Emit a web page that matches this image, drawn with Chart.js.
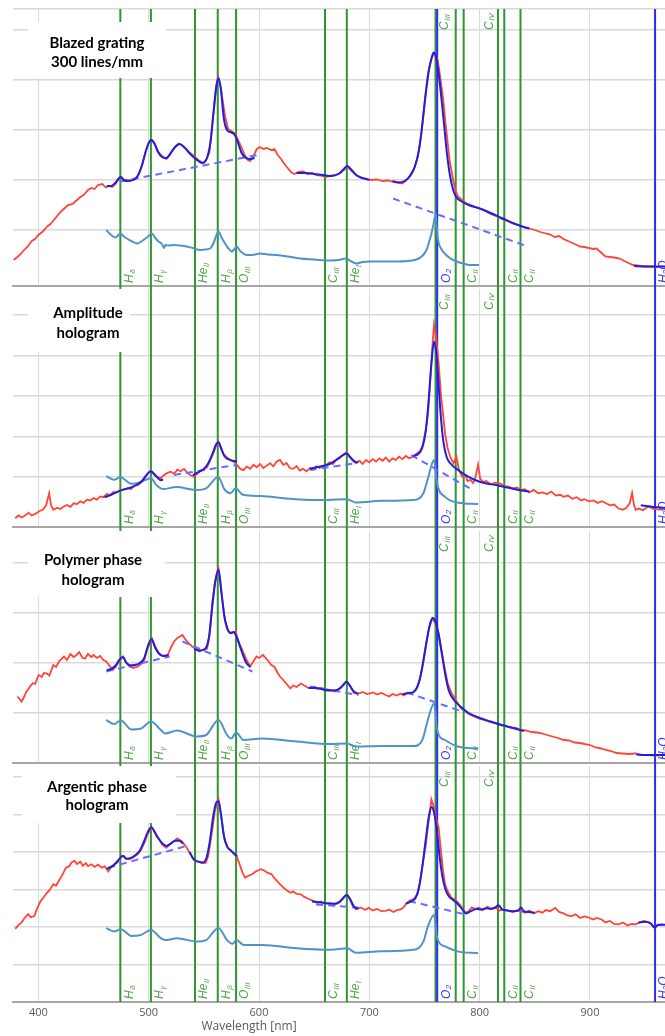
<!DOCTYPE html>
<html>
<head>
<meta charset="utf-8">
<script src="https://cdn.jsdelivr.net/npm/chart.js@4.4.1/dist/chart.umd.min.js"></script>
<style>
  html, body { margin: 0; padding: 0; background: #fff; }
  #wrap { position: relative; width: 665px; height: 1036px; overflow: hidden; }
  canvas { position: absolute; left: 0; }
</style>
</head>
<body>
<div id="wrap">
  <canvas id="p1" width="665" height="288" style="top:0px"></canvas>
  <canvas id="p2" width="665" height="241" style="top:288px"></canvas>
  <canvas id="p3" width="665" height="236" style="top:529px"></canvas>
  <canvas id="p4" width="665" height="271" style="top:765px"></canvas>
</div>
<script>
// wavelength axis
const wlTicks = [400, 500, 600, 700, 800, 900];
// redshifted line markers [nm]
const greenLines = [474.3, 502, 542, 562.6, 579.2, 659.8, 679.6, 760, 778.3, 785.5, 816.6, 822.3, 837];
const blueLines = [761.5, 959];
const lowLabels = [["H", "δ", 474.3], ["H", "γ", 502], ["He", "II", 542], ["H", "β", 562.6], ["O", "III", 579.2],
  ["C", "III", 659.8], ["He", "I", 679.6], ["C", "II", 785.5], ["C", "II", 822.3], ["C", "II", 837]];
const topLabels = [["C", "III", 760], ["C", "IV", 800.5]];
const blueLabels = [["O", "2", 761.5], ["H₂O", "", 959]];

// ---- panel 1 : blazed grating ----
const p1Ticks = [1, 2, 3, 4, 5, 5.42];
const p1Red = [[377.6,0.40],[381,0.46],[384,0.52],[387,0.60],[390,0.66],[394,0.78],[397,0.82],[400,0.90],[404,0.97],[408,1.07],[411,1.12],[414,1.20],[417,1.28],[421,1.38],[424,1.44],[427,1.50],[431,1.52],[435,1.60],[438,1.66],[441,1.70],[445,1.80],[448,1.84],[451,1.82],[454,1.90],[458,1.92],[461,1.85],[464,1.88],[467,1.86],[470,1.92],[474.5,2.08],[477,2.02],[480,1.99],[484,2.0],[488,2.02],[491,2.12],[494,2.3],[497,2.55],[500,2.75],[503,2.8],[506,2.7],[509,2.55],[513,2.46],[516,2.42],[519,2.5],[523,2.64],[527,2.73],[530,2.7],[534,2.62],[537,2.55],[541,2.48],[545,2.4],[549,2.34],[552,2.4],[555,2.55],[558,3.2],[561,3.85],[563,4.05],[565,3.9],[567,3.6],[569,3.3],[572,3.02],[575,2.98],[578,2.93],[581,2.8],[584,2.66],[587,2.5],[590,2.4],[592,2.38],[595,2.48],[598,2.62],[601,2.66],[604,2.62],[607,2.64],[611,2.6],[614,2.62],[617,2.5],[620,2.42],[623,2.32],[626,2.24],[629,2.16],[632,2.12],[636,2.16],[640,2.17],[644,2.12],[648,2.14],[652,2.10],[656,2.09],[660,2.06],[664,2.08],[668,2.1],[673,2.13],[677,2.2],[680,2.27],[684,2.18],[688,2.1],[692,2.06],[697,2.02],[702,2.0],[707,2.01],[712,1.98],[717,1.99],[722,1.96],[726,1.95],[730,1.93],[734,2.0],[737,2.1],[741,2.25],[744,2.47],[747,2.9],[750,3.55],[753,4.1],[756,4.4],[758.4,4.53],[760,4.5],[762,4.4],[764,4.1],[767,3.6],[769,3.15],[771,2.75],[773,2.35],[776,2.0],[778,1.8],[780,1.68],[784,1.6],[788,1.53],[792,1.5],[796,1.46],[800,1.43],[804,1.4],[808,1.34],[812,1.3],[816,1.27],[820,1.22],[825,1.18],[830,1.13],[835,1.1],[840,1.06],[845,1.03],[850,1.0],[855,0.96],[860,0.93],[864,0.91],[868,0.86],[872,0.88],[876,0.82],[880,0.78],[884,0.74],[888,0.7],[891,0.67],[895,0.66],[899,0.64],[903,0.62],[906,0.63],[910,0.55],[914,0.47],[918,0.46],[922,0.45],[927,0.43],[931,0.38],[935,0.34],[939,0.3],[943,0.29],[947,0.28],[951,0.27],[955,0.27],[960,0.26],[966,0.27]];
const p1Fit = [[462,1.88],[466,1.88],[470,1.95],[474.5,2.06],[478,1.99],[482,1.98],[486,2.0],[490,2.08],[494,2.3],[498,2.62],[502,2.8],[505,2.74],[508,2.58],[512,2.46],[516,2.44],[520,2.54],[524,2.66],[528,2.72],[532,2.66],[536,2.56],[540,2.47],[545,2.38],[549,2.34],[553,2.45],[556,2.75],[559,3.4],[561.5,3.9],[563.3,4.04],[565.5,3.8],[568,3.25],[571,3.0],[575,2.95],[578,2.9],[581,2.74],[584,2.55],[587,2.46],[591,2.42],[596,2.44],[600,null],
  [634,2.14],[642,2.14],[650,2.12],[658,2.1],[666,2.08],[672,2.12],[676,2.2],[680,2.28],[684,2.2],[688,2.1],[692,2.05],[697,2.02],[700,2.0],[710,null],
  [721,1.98],[727,1.95],[732,1.98],[737,2.08],[741,2.25],[745,2.6],[748,3.1],[751,3.7],[754,4.2],[756.5,4.45],[758.4,4.55],[760.5,4.45],[763,4.1],[765.5,3.6],[768,3.05],[770.5,2.5],[773,2.1],[776,1.8],[779,1.65],[783,1.58],[790,1.5],[800,1.43],[810,1.34],[820,1.24],[830,1.14],[840,1.06],[845,1.03],[900,null],
  [940,0.28],[950,0.27],[960,0.27],[968,0.27]];
const p1Dash = [[474,1.97],[599,2.5],[650,null],[721.5,1.63],[843.7,0.67]];
const p1Ref = [[461.5,1.0],[465,0.92],[469.7,0.85],[474.6,0.93],[477,0.88],[480.2,0.83],[485,0.77],[489.3,0.73],[494,0.78],[498.4,0.85],[502.9,0.93],[506,0.84],[508.9,0.77],[512,0.72],[514,0.64],[515,0.7],[518,0.69],[522.6,0.7],[528,0.69],[534.6,0.67],[540,0.64],[546.6,0.6],[551,0.61],[555.7,0.63],[559,0.75],[563.2,0.97],[566,0.85],[569.2,0.73],[572,0.64],[575.3,0.57],[577,0.6],[579.8,0.67],[583,0.58],[588.9,0.5],[594,0.5],[600.9,0.53],[608,0.51],[616,0.5],[626,0.47],[637,0.43],[650,0.41],[664,0.39],[672,0.4],[679,0.43],[683,0.38],[688,0.33],[694,0.36],[700.5,0.37],[712,0.37],[724.6,0.37],[735,0.38],[742.7,0.41],[748,0.48],[751.8,0.6],[754,0.75],[756.3,0.93],[758.5,1.15],[760.2,1.33],[761,1.1],[762.3,0.8],[765,0.63],[768.3,0.53],[773,0.44],[778.9,0.37],[785,0.33],[791,0.3],[799.4,0.3]];

// ---- panel 2 : amplitude hologram ----
const p2Ticks = [1, 2, 3, 4, 5];
const p2Red = [[379,-0.02],[382,0.05],[385,0.0],[388.6,0.06],[391,0.12],[394,0.05],[398,0.1],[401,0.16],[404,0.19],[407,0.3],[409.8,0.6],[411.5,0.3],[413.6,0.19],[417,0.24],[420,0.21],[423,0.27],[426,0.31],[429,0.26],[432,0.35],[435,0.33],[438,0.4],[441,0.36],[444,0.44],[447,0.42],[450,0.48],[453,0.44],[456,0.52],[459,0.5],[462,0.58],[465,0.55],[468,0.63],[471,0.62],[474,0.66],[477,0.68],[481,0.72],[484,0.7],[487,0.78],[490,0.8],[493,0.86],[496,0.95],[499,1.08],[502,1.16],[505,1.08],[508,1.0],[511,0.97],[514,1.05],[517,1.1],[520,1.13],[523,1.08],[526,1.18],[529,1.14],[532,1.2],[535,1.1],[538,1.04],[541,1.0],[544,1.08],[547,1.15],[550,1.18],[553,1.25],[556,1.42],[559,1.62],[561.5,1.8],[563.3,1.87],[565.5,1.72],[568,1.55],[571,1.48],[574,1.42],[577,1.38],[580,1.3],[583,1.2],[586,1.17],[589,1.26],[592,1.2],[595,1.3],[598,1.24],[601,1.32],[604,1.22],[607,1.28],[610,1.34],[613,1.26],[616,1.38],[619,1.42],[622,1.3],[625,1.34],[628,1.22],[631,1.2],[634,1.27],[637,1.16],[640,1.2],[643,1.14],[646,1.22],[649,1.18],[652,1.26],[655,1.22],[658,1.28],[661,1.3],[664,1.36],[667,1.32],[670,1.42],[673,1.46],[676,1.54],[679.5,1.62],[682,1.5],[685,1.4],[688,1.34],[691,1.4],[694,1.32],[697,1.42],[700,1.36],[703,1.44],[706,1.38],[709,1.46],[712,1.4],[715,1.48],[718,1.38],[721,1.46],[724,1.42],[727,1.5],[730,1.44],[733,1.52],[736,1.46],[739.8,1.5],[743,1.58],[746,1.64],[748.5,1.8],[751,2.15],[753.2,2.57],[755,3.3],[757.1,4.22],[758.6,4.75],[760.5,4.45],[762.8,3.81],[765,3.0],[767,2.5],[768.6,2.08],[771,1.7],[774,1.45],[776.3,1.34],[779,1.5],[781,1.2],[784,1.01],[787,1.05],[789,0.9],[791.6,0.93],[794,0.85],[796,0.98],[798.6,1.3],[800.5,0.95],[803.2,0.88],[806,0.9],[810,0.82],[814,0.86],[818.5,0.84],[822,0.78],[826,0.76],[830,0.72],[834,0.74],[837.7,0.68],[841,0.7],[845,0.62],[849,0.68],[853,0.6],[857,0.62],[861,0.58],[865,0.64],[869,0.54],[873,0.56],[876,0.51],[880,0.54],[884,0.46],[888,0.5],[892,0.42],[895,0.45],[899,0.4],[903,0.42],[907,0.36],[911,0.4],[914.5,0.35],[918,0.3],[922,0.32],[926,0.22],[929.8,0.19],[933,0.24],[936,0.35],[938.2,0.6],[940,0.3],[941.4,0.19],[944,0.22],[948,0.18],[952.9,0.27],[957,0.22],[961,0.2],[966.3,0.19]];
const p2Fit = [[460,0.5],[466,0.56],[472,0.64],[478,0.7],[484,0.74],[490,0.82],[494,0.9],[498,1.05],[502,1.14],[505,1.06],[508,0.98],[511,0.92],[513,0.94],[520,null],
  [540,1.04],[545,1.12],[550,1.2],[554,1.34],[558,1.58],[561,1.8],[563.3,1.86],[566,1.68],[569,1.5],[572,1.44],[576,1.4],[580,1.38],[600,null],
  [646,1.2],[652,1.24],[658,1.27],[664,1.32],[670,1.42],[675,1.52],[679.5,1.58],[683,1.48],[687,1.38],[690,1.36],[700,null],
  [740,1.52],[744,1.56],[748,1.72],[751,2.1],[753.5,2.8],[756,3.7],[758.6,4.34],[760.5,4.1],[762.5,3.4],[764.5,2.6],[767,1.9],[770,1.5],[774,1.32],[778,1.22],[783,1.12],[790,1.0],[798,0.9],[806,0.84],[815,0.8],[825,0.74],[835,0.68],[845,0.64],[900,null],
  [946,0.3],[955,0.27],[962,0.25],[968,0.24]];
const p2Dash = [[523,1.05],[580,1.3],[600,null],[646,1.17],[688,1.34],[700,null],[738,1.54],[793.6,0.68]];
const p2Ref = [[461.5,1.02],[468.6,0.93],[474.3,0.99],[484.3,0.83],[493.2,0.88],[502,0.97],[507,0.8],[512.7,0.7],[525,0.75],[543,0.68],[552,0.72],[563,1.0],[569,0.68],[574.3,0.6],[578.6,0.72],[585.5,0.56],[602,0.53],[624,0.47],[653,0.43],[679.5,0.45],[688,0.37],[711,0.41],[740,0.43],[749,0.6],[752.8,0.93],[758.6,1.42],[761.4,0.84],[768.6,0.51],[780,0.37],[798.6,0.33]];

// ---- panel 3 : polymer phase hologram ----
const p3Ticks = [1, 2, 3, 4];
const p3Red = [[381,1.33],[383,1.28],[384.8,1.23],[387,1.32],[389,1.42],[392.5,1.53],[395,1.6],[397,1.58],[400.2,1.76],[403,1.72],[405,1.8],[407.8,1.79],[410,1.75],[413.6,1.96],[416,1.92],[419,2.04],[423.2,2.13],[426,2.06],[429,2.18],[432,2.12],[434.7,2.16],[437,2.22],[440,2.1],[442.4,2.09],[445,2.18],[448,2.12],[450,2.16],[453,2.1],[456,2.14],[459,2.06],[461.5,2.03],[464,1.96],[467.3,1.86],[470,1.92],[473,2.02],[476.9,2.13],[479,2.02],[482.6,1.93],[486,1.9],[490.3,1.93],[493,1.98],[496,2.06],[499,2.3],[503,2.49],[506,2.32],[509.5,2.19],[513,2.14],[517.2,2.16],[520,2.3],[523,2.43],[526,2.5],[530.6,2.56],[533,2.48],[536.4,2.39],[540,2.32],[543,2.28],[546,2.23],[549,2.26],[553,2.29],[555.5,2.6],[557.5,3.19],[560,3.6],[563.3,3.89],[566,3.4],[569,2.86],[572,2.66],[574.8,2.59],[578.6,2.63],[582,2.4],[586.3,2.19],[589,2.05],[592,1.93],[594.5,2.02],[597.8,2.13],[600,2.1],[603.5,2.16],[607,2.08],[611.2,1.96],[614,1.92],[617,1.8],[619,1.73],[622,1.66],[625,1.58],[628.5,1.49],[631,1.55],[634,1.52],[638,1.59],[641,1.55],[645,1.5],[649.6,1.53],[653,1.48],[657,1.5],[661,1.45],[665,1.46],[669,1.43],[672,1.48],[676,1.55],[679.5,1.63],[683,1.52],[686,1.4],[690,1.39],[694,1.42],[698,1.38],[703.4,1.41],[707,1.37],[711,1.4],[714.8,1.36],[718,1.33],[721,1.38],[725,1.35],[728.3,1.39],[731,1.35],[735,1.4],[738,1.38],[741,1.44],[743.5,1.52],[745.6,1.66],[748,1.9],[751.3,2.33],[754,2.68],[757,2.89],[760,2.8],[762.8,2.59],[765,2.3],[768.6,1.86],[771,1.6],[774,1.42],[776.3,1.33],[780,1.2],[783,1.1],[786,1.05],[790,0.98],[794,0.94],[799.3,0.89],[804,0.86],[809,0.82],[814,0.8],[818.5,0.76],[823,0.74],[828,0.71],[833,0.7],[837.7,0.66],[842,0.65],[847,0.62],[852,0.61],[856.9,0.59],[861,0.56],[866,0.53],[871,0.5],[876,0.46],[881,0.45],[886,0.41],[891,0.4],[895.2,0.38],[900,0.36],[905,0.31],[910,0.29],[914.5,0.26],[919,0.24],[924,0.2],[929.8,0.19],[935,0.18],[941.4,0.19],[947,0.16],[952.9,0.16],[958,0.15],[966,0.16]];
const p3Fit = [[462,1.86],[466,1.88],[470,1.95],[473,2.05],[476.5,2.12],[480,2.0],[484,1.95],[488,1.96],[492,2.0],[496,2.1],[499,2.32],[502.5,2.48],[506,2.3],[510,2.17],[514,2.14],[518,2.16],[530,null],
  [541,2.28],[546,2.25],[551,2.28],[554.5,2.5],[557.5,3.1],[560.5,3.65],[563.3,3.87],[566,3.4],[568.5,2.95],[571,2.7],[574,2.6],[577,2.62],[580,2.5],[584,2.25],[588,2.02],[592,1.92],[600,null],
  [645,1.5],[652,1.5],[660,1.46],[668,1.45],[674,1.5],[677,1.58],[679.5,1.63],[682,1.56],[686,1.43],[690,1.38],[700,null],
  [730,1.38],[736,1.4],[740,1.42],[743,1.5],[746,1.7],[749,2.05],[752,2.45],[755,2.78],[757.5,2.9],[760,2.82],[763,2.55],[766,2.15],[769,1.75],[772,1.45],[776,1.28],[782,1.14],[790,1.0],[800,0.9],[810,0.83],[820,0.76],[830,0.7],[840,0.64],[900,null],
  [942,0.17],[950,0.16],[958,0.16],[968,0.16]];
const p3Dash = [[461.5,1.83],[519,2.13],[525,null],[530.6,2.43],[594,1.83],[600,null],[646,1.53],[690,1.36],[700,null],[734,1.41],[784,1.03]];
const p3Ref = [[461.5,0.86],[468.6,0.78],[474.8,0.85],[484.3,0.67],[493.2,0.69],[502,0.83],[511,0.66],[514.8,0.59],[525.7,0.65],[543.5,0.53],[552,0.56],[563.2,0.86],[571,0.56],[574.8,0.49],[579.2,0.61],[586,0.46],[603,0.49],[634,0.43],[665,0.38],[679.5,0.39],[688,0.33],[711,0.34],[740,0.34],[748,0.46],[753,0.86],[758.6,1.19],[761.5,0.65],[768.6,0.46],[780,0.33],[798.6,0.29]];

// ---- panel 4 : argentic phase hologram ----
const p4Ticks = [1, 2, 3, 4, 5, 6];
const p4Red = [[379,1.95],[382,2.05],[384.8,2.12],[387,2.22],[390.6,2.34],[393,2.26],[396.3,2.29],[399,2.5],[402,2.69],[405,2.8],[407.8,2.91],[410,2.98],[413.6,3.14],[416,3.1],[419.4,3.27],[422,3.4],[425,3.58],[428,3.62],[430,3.72],[432.8,3.76],[435,3.68],[438,3.74],[440.4,3.63],[443,3.7],[445,3.62],[448,3.67],[451,3.6],[454,3.66],[457.7,3.58],[460,3.62],[463.4,3.48],[466,3.6],[469.2,3.67],[472,3.72],[474.5,3.86],[476.9,3.89],[479,3.82],[482.6,3.8],[486,3.86],[490.3,3.94],[493,4.05],[496.8,4.29],[499,4.48],[502.6,4.65],[505,4.55],[507,4.42],[509.5,4.34],[512,4.2],[516,4.11],[519,4.2],[523,4.29],[526,4.36],[528.7,4.31],[531,4.25],[534.5,4.11],[537,3.98],[540,3.82],[542,3.76],[545,3.74],[548,3.7],[551.7,3.71],[554,3.9],[557.5,4.56],[560,5.1],[563.3,5.4],[566,4.9],[569,4.29],[572,4.1],[574.8,4.03],[577,3.95],[579.7,3.89],[582,3.7],[585,3.45],[587.4,3.31],[590,3.36],[594,3.41],[597,3.48],[601.6,3.54],[605,3.5],[608,3.44],[611.2,3.41],[614,3.3],[617,3.2],[619,3.14],[622,3.05],[625,2.98],[628.5,2.91],[631,2.95],[634,2.88],[638,2.87],[641,2.8],[644,2.76],[647,2.72],[649.6,2.69],[653,2.64],[656,2.68],[660,2.62],[665,2.62],[669,2.6],[673,2.66],[676,2.75],[679.5,2.87],[682,2.75],[685,2.56],[688,2.47],[692,2.52],[696,2.46],[699.5,2.51],[703,2.44],[707,2.48],[711,2.42],[714.8,2.43],[718,2.46],[722,2.4],[725,2.45],[728.3,2.47],[731,2.52],[733,2.6],[736,2.69],[740,2.74],[743.6,2.87],[746,3.2],[748.5,3.7],[751.3,4.21],[754,4.9],[756.3,5.4],[758.5,5.2],[760.5,4.9],[762.8,4.65],[765,4.0],[766.8,3.5],[768.6,3.14],[771,2.95],[774.4,2.78],[778,2.72],[782,2.6],[785,2.45],[787.8,2.38],[790,2.42],[793,2.52],[796,2.48],[799.3,2.51],[803,2.46],[807,2.54],[811,2.48],[814.7,2.51],[818,2.44],[822,2.47],[826.2,2.43],[830,2.4],[834,2.44],[837,2.42],[841.6,2.38],[845,2.44],[849,2.36],[853,2.42],[856.9,2.38],[860,2.45],[864,2.42],[868.4,2.51],[872,2.4],[876,2.36],[880,2.3],[883.7,2.29],[887,2.34],[891,2.24],[895,2.28],[899,2.25],[903,2.2],[906,2.24],[910.6,2.2],[914,2.12],[918,2.16],[922,2.08],[926,2.07],[930,2.12],[934,2.04],[938,2.08],[941.4,2.07],[945,2.12],[949,2.16],[953,2.12],[956,2.06],[958.6,1.98],[961,2.05],[966,2.07]];
const p4Fit = [[462,3.55],[466,3.6],[470,3.7],[473,3.8],[476.5,3.9],[480,3.82],[484,3.84],[488,3.92],[492,4.04],[496,4.3],[499,4.52],[502.5,4.66],[505,4.56],[508,4.4],[512,4.24],[516,4.16],[520,4.22],[524,4.3],[528,4.3],[531,4.22],[534,null],
  [537,4.0],[541,3.8],[545,3.74],[549,3.72],[552.5,3.85],[555.5,4.3],[558.5,4.95],[561,5.3],[563.3,5.35],[565.5,5.0],[568,4.45],[571,4.15],[574,4.05],[577,3.97],[580,3.88],[600,null],
  [648,2.68],[655,2.66],[662,2.63],[668,2.62],[673,2.67],[676.5,2.78],[679.5,2.85],[682.5,2.75],[686,2.55],[690,2.48],[700,null],
  [733,2.62],[738,2.68],[742,2.78],[745,3.05],[748,3.6],[751,4.3],[754,4.95],[756.5,5.2],[759,5.0],[761.5,4.5],[764,3.8],[766.5,3.3],[769,3.0],[772,2.82],[776,2.72],[780,2.62],[784,2.48],[787.8,2.36],[792,2.42],[797,2.48],[802,2.46],[806,2.5],[810,2.48],[814,2.52],[817,2.58],[820,2.48],[825,2.44],[830,2.42],[835,2.44],[837.5,2.52],[840,2.42],[845,2.4],[850,2.38],[900,null],
  [944,2.12],[950,2.14],[955,2.1],[958.6,1.98],[962,2.06],[968,2.06]];
const p4Dash = [[463.4,3.58],[534.5,4.16],[600,null],[651.8,2.6],[692,2.51],[700,null],[736,2.69],[787.8,2.33]];
const p4Ref = [[461.5,1.97],[468.6,1.88],[474.8,1.94],[484.3,1.76],[493.2,1.79],[502,1.92],[511,1.7],[514.8,1.65],[525.7,1.7],[543.5,1.61],[552,1.65],[563.2,1.97],[571,1.65],[576,1.55],[579.7,1.65],[586,1.52],[603,1.52],[634,1.43],[665,1.39],[680,1.43],[688,1.31],[711,1.35],[740,1.39],[749,1.61],[753,2.01],[758.6,2.32],[761.5,1.7],[768.6,1.48],[780,1.35],[798.6,1.3]];

const panels = [
  { id: "p1", title: ["Blazed grating", "300 lines/mm"], red: p1Red, fit: p1Fit, dash: p1Dash, ref: p1Ref,
    yMin: -0.12, yMax: 5.42, yTicks: p1Ticks, padTop: 9, padBottom: 2, box: [28, 22, 138, 56], titleX: 97, titleY: [43, 62] },
  { id: "p2", title: ["Amplitude", "hologram"], red: p2Red, fit: p2Fit, dash: p2Dash, ref: p2Ref,
    yMin: -0.235, yMax: 5.64, yTicks: p2Ticks, padTop: 1, padBottom: 2, box: [28, 1, 102, 63], titleX: 88, titleY: [25, 45] },
  { id: "p3", title: ["Polymer phase", "hologram"], red: p3Red, fit: p3Fit, dash: p3Dash, ref: p3Ref,
    yMin: 0, yMax: 4.64, yTicks: p3Ticks, padTop: 2, padBottom: 2, box: [28, 2, 137, 66], titleX: 93, titleY: [31, 51] },
  { id: "p4", title: ["Argentic phase", "hologram"], red: p4Red, fit: p4Fit, dash: p4Dash, ref: p4Ref,
    yMin: 0, yMax: 6.29, yTicks: p4Ticks, padTop: 1, padBottom: 0, box: [22, 1, 154, 57], titleX: 97, titleY: [22, 40] }
];

const toXY = (arr) => arr.map(p => ({ x: p[0], y: p[1] }));

function vLabel(ctx, x, y, main, sub, color) {
  ctx.save();
  ctx.translate(x, y);
  ctx.rotate(-Math.PI / 2);
  ctx.fillStyle = color;
  ctx.textAlign = "left";
  ctx.textBaseline = "middle";
  ctx.font = 'italic 12px "Liberation Sans"';
  ctx.fillText(main, 0, 0);
  const w = ctx.measureText(main).width;
  if (sub) {
    ctx.font = 'italic 8px "Liberation Sans"';
    ctx.fillText(sub, w + 0.5, 3);
  }
  ctx.restore();
}

const deco = {
  id: "deco",
  beforeDatasetsDraw(chart) {
    const { ctx, chartArea: a, scales: { x } } = chart;
    const cfg = chart.options.plugins.deco;
    const y0 = cfg.first ? a.top : 0;
    const y1 = cfg.last ? a.bottom : chart.height;
    ctx.save();
    ctx.lineWidth = 2;
    ctx.strokeStyle = "#2f952f";
    greenLines.forEach(wl => {
      const px = x.getPixelForValue(wl);
      ctx.beginPath(); ctx.moveTo(px, y0); ctx.lineTo(px, y1); ctx.stroke();
    });
    ctx.strokeStyle = "#2b2bf5";
    blueLines.forEach(wl => {
      const px = x.getPixelForValue(wl);
      ctx.beginPath(); ctx.moveTo(px, y0); ctx.lineTo(px, y1); ctx.stroke();
    });

    // labels
    lowLabels.forEach(l => vLabel(ctx, x.getPixelForValue(l[2]) + 9, a.bottom - 3, l[0], l[1], "#4ea645"));
    topLabels.forEach(l => vLabel(ctx, x.getPixelForValue(l[2]) + 9, a.top + 21, l[0], l[1], "#4ea645"));
    blueLabels.forEach(l => vLabel(ctx, x.getPixelForValue(l[2]) + 9, a.bottom - 3, l[0], l[1], "#3a3af0"));

    // title box
    const b = cfg.box;
    ctx.fillStyle = "#ffffff";
    ctx.fillRect(b[0], b[1], b[2], b[3]);
    ctx.fillStyle = "#000000";
    ctx.font = 'bold 15px Lato';
    ctx.textAlign = "center";
    ctx.textBaseline = "middle";
    cfg.title.forEach((t, i) => ctx.fillText(t, cfg.titleX, cfg.titleY[i]));
    ctx.restore();
  },
  afterDraw(chart) {
    const cfg = chart.options.plugins.deco;
    if (!cfg.last) return;
    const ctx = chart.ctx;
    ctx.save();
    ctx.fillStyle = "#595959";
    ctx.font = '12px "Open Sans"';
    ctx.textAlign = "center";
    ctx.textBaseline = "middle";
    ctx.fillText("Wavelength [nm]", 249, 262);
    ctx.restore();
  }
};

panels.forEach((p, i) => {
  const first = i === 0;
  const last = i === panels.length - 1;
  new Chart(document.getElementById(p.id), {
    type: "line",
    data: {
      datasets: [
        { data: toXY(p.fit), borderColor: "#1f1fe0", borderWidth: 2, cubicInterpolationMode: "monotone" },
        { data: toXY(p.dash), borderColor: "#6070ff", borderWidth: 2, borderDash: [7, 5] },
        { data: toXY(p.red), borderColor: "#ff4438", borderWidth: 1.8 },
        { data: toXY(p.ref), borderColor: "#4f93c9", borderWidth: 2, cubicInterpolationMode: "monotone" }
      ]
    },
    options: {
      responsive: false,
      animation: false,
      devicePixelRatio: 1,
      spanGaps: false,
      elements: { point: { radius: 0 }, line: { tension: 0 } },
      layout: { padding: { left: 13, right: 0, top: p.padTop, bottom: p.padBottom } },
      plugins: {
        legend: { display: false },
        tooltip: { enabled: false },
        deco: { first, last, box: p.box, title: p.title, titleX: p.titleX, titleY: p.titleY }
      },
      scales: {
        x: {
          type: "linear",
          min: 377,
          max: 968,
          afterBuildTicks: s => { s.ticks = wlTicks.map(v => ({ value: v })); },
          afterFit: s => { s.height = last ? 34 : 0; },
          grid: { color: "#d9d9d9", lineWidth: 1, drawTicks: false },
          border: { color: "#a6a6a6", width: 2 },
          ticks: { display: last, padding: 4, color: "#595959", font: { family: "Open Sans", size: 11 } }
        },
        y: {
          type: "linear",
          min: p.yMin,
          max: p.yMax,
          afterBuildTicks: s => { s.ticks = p.yTicks.map(v => ({ value: v })); },
          afterFit: s => { s.width = 0; },
          ticks: { display: false },
          grid: { color: "#d9d9d9", lineWidth: 1.5, drawTicks: false },
          border: { display: false }
        }
      }
    },
    plugins: [deco]
  });
});
</script>
</body>
</html>
